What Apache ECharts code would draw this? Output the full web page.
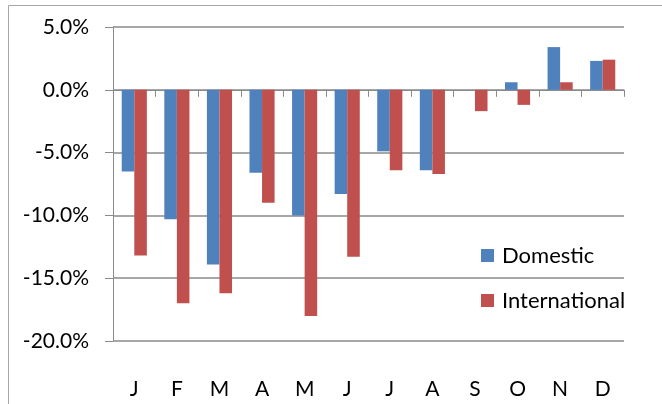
<!DOCTYPE html>
<html>
<head>
<meta charset="utf-8">
<script src="https://cdn.jsdelivr.net/npm/echarts@6/dist/echarts.min.js"></script>
<style>
  html, body { margin: 0; padding: 0; background: #fff; }
  #chart { width: 662px; height: 404px; }
</style>
</head>
<body>
<div id="chart"></div>
<script>
// Monthly year-on-year change, in percent
const months = ['J', 'F', 'M', 'A', 'M', 'J', 'J', 'A', 'S', 'O', 'N', 'D'];
const domestic = [-6.5, -10.3, -13.9, -6.6, -10.0, -8.3, -4.9, -6.4, 0, 0.6, 3.4, 2.3];
const international = [-13.2, -17.0, -16.2, -9.0, -18.0, -13.3, -6.4, -6.7, -1.7, -1.2, 0.6, 2.4];
const yMin = -20, yMax = 5, yStep = 5;

const FONT = 'Lato, "Open Sans", sans-serif';
const GRID_GREY = '#8a8a8a';

const chart = echarts.init(document.getElementById('chart'), null, { renderer: 'canvas' });

chart.setOption({
  animation: false,
  backgroundColor: '#ffffff',
  textStyle: { fontFamily: FONT },
  graphic: [{
    type: 'rect',
    shape: { x: 8.5, y: 5.5, width: 700, height: 450 },
    style: { fill: 'none', stroke: '#a6a6a6', lineWidth: 1 },
    silent: true,
    z: -1
  }],
  grid: { left: 113, right: 38, top: 27, bottom: 63, containLabel: false },
  legend: {
    orient: 'vertical',
    left: 476,
    top: 239.5,
    itemWidth: 13,
    itemHeight: 13,
    itemGap: 23,
    icon: 'rect',
    textStyle: { fontFamily: FONT, fontSize: 22, color: '#000', lineHeight: 22, padding: [0, 0, 0, 3] },
    data: ['Domestic', 'International']
  },
  xAxis: [{
    type: 'category',
    data: months,
    axisLine: { onZero: true, lineStyle: { color: GRID_GREY, width: 1 } },
    axisTick: { show: true, length: 7, lineStyle: { color: GRID_GREY } },
    axisLabel: { show: false },
    splitLine: { show: false }
  }, {
    type: 'category',
    data: months,
    position: 'bottom',
    axisLine: { show: false, onZero: false },
    axisTick: { show: false },
    axisLabel: { show: true, fontFamily: FONT, fontSize: 21, color: '#000', margin: 38 },
    splitLine: { show: false }
  }],
  yAxis: {
    type: 'value',
    min: yMin,
    max: yMax,
    interval: yStep,
    axisLine: { show: true, lineStyle: { color: GRID_GREY, width: 1 } },
    axisTick: { show: true, length: 8, lineStyle: { color: GRID_GREY } },
    axisLabel: {
      fontFamily: FONT, fontSize: 21, color: '#000', margin: 24,
      formatter: v => v.toFixed(1) + '%'
    },
    splitLine: { show: true, lineStyle: { color: GRID_GREY, width: 1.5 } }
  },
  series: [{
    name: 'Domestic',
    type: 'bar',
    xAxisIndex: 0,
    data: domestic,
    barGap: '0%',
    barCategoryGap: '41%',
    itemStyle: { color: '#4f81bd' }
  }, {
    name: 'International',
    type: 'bar',
    xAxisIndex: 0,
    data: international,
    barGap: '0%',
    barCategoryGap: '41%',
    itemStyle: { color: '#c0504d' }
  }]
});
</script>
</body>
</html>
